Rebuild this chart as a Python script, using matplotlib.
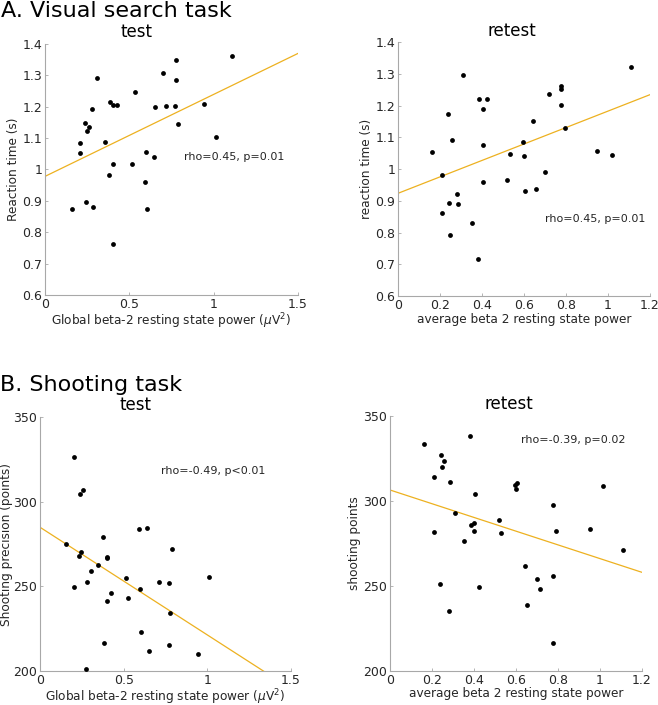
import matplotlib
matplotlib.use('Agg')
import matplotlib.pyplot as plt
import numpy as np

# ---- data ----
# A. visual search, test
vs_test_x = [0.162, 0.208, 0.210, 0.238, 0.242, 0.250, 0.260, 0.279, 0.287, 0.311,
             0.353, 0.382, 0.386, 0.402, 0.404, 0.404, 0.426, 0.531, 0.517, 0.594,
             0.600, 0.604, 0.644, 0.654, 0.699, 0.715, 0.771, 0.775, 0.777, 0.791,
             0.945, 1.014, 1.106]
vs_test_y = [0.875, 1.054, 1.086, 1.147, 0.895, 1.122, 1.134, 1.192, 0.879, 1.293,
             1.087, 0.981, 1.214, 1.205, 1.017, 0.764, 1.205, 1.248, 1.018, 0.961,
             1.057, 0.875, 1.041, 1.199, 1.307, 1.202, 1.202, 1.284, 1.348, 1.146,
             1.210, 1.102, 1.363]
vs_test_fit = [0.978, 1.370]   # y at x=0 and x=1.5

# A. visual search, retest
vs_retest_x = [0.162, 0.209, 0.211, 0.236, 0.241, 0.249, 0.258, 0.279, 0.285, 0.309,
               0.354, 0.382, 0.387, 0.403, 0.403, 0.403, 0.426, 0.518, 0.531, 0.596,
               0.602, 0.606, 0.645, 0.655, 0.699, 0.717, 0.774, 0.778, 0.778, 0.793,
               0.948, 1.018, 1.111]
vs_retest_y = [1.054, 0.983, 0.862, 1.174, 0.895, 0.794, 1.091, 0.922, 0.891, 1.298,
               0.829, 0.716, 1.222, 1.190, 1.076, 0.961, 1.222, 0.967, 1.048, 1.087,
               1.042, 0.932, 1.152, 0.937, 0.991, 1.237, 1.203, 1.263, 1.254, 1.131,
               1.056, 1.044, 1.321]
vs_retest_fit = [0.924, 1.235]  # y at x=0 and x=1.2

# B. shooting, test
sh_test_x = [0.157, 0.203, 0.205, 0.233, 0.237, 0.245, 0.255, 0.277, 0.283, 0.307,
             0.349, 0.378, 0.382, 0.398, 0.400, 0.400, 0.422, 0.512, 0.528, 0.594,
             0.600, 0.602, 0.639, 0.651, 0.713, 0.771, 0.777, 0.773, 0.789, 0.946,
             1.012]
sh_test_y = [274.9, 326.2, 249.4, 268.2, 304.6, 270.2, 306.8, 201.2, 252.3, 258.8,
             262.7, 279.2, 216.5, 267.6, 267.0, 241.3, 246.0, 255.2, 242.9, 283.8,
             248.2, 223.0, 284.7, 211.8, 252.3, 251.9, 234.0, 215.3, 271.8, 209.8,
             255.8]
sh_test_fit = [284.9, 189.5]   # y at x=0 and x=1.5

# B. shooting, retest
sh_retest_x = [0.160, 0.208, 0.208, 0.236, 0.241, 0.247, 0.258, 0.279, 0.285, 0.309,
               0.352, 0.380, 0.385, 0.401, 0.401, 0.404, 0.425, 0.517, 0.529, 0.594,
               0.601, 0.604, 0.645, 0.654, 0.698, 0.715, 0.774, 0.777, 0.778, 0.791,
               0.950, 1.016, 1.110]
sh_retest_y = [333.5, 313.8, 281.6, 251.1, 327.2, 320.1, 323.3, 235.4, 310.9, 293.0,
               276.7, 338.4, 285.7, 287.1, 282.2, 303.8, 249.5, 289.0, 281.0, 309.5,
               306.8, 310.3, 261.7, 238.9, 254.3, 248.4, 255.8, 297.7, 216.5, 282.2,
               283.4, 308.7, 271.2]
sh_retest_fit = [306.4, 258.0]  # y at x=0 and x=1.2

LINE_COL = '#EDB120'
SPINE_COL = '#a8a8a8'
TEXT_COL = '#262626'

plt.rcParams['font.family'] = 'DejaVu Sans'

fig = plt.figure(figsize=(6.58, 7.05), dpi=100)

def setup(ax, xlim, xticks, xticklabels, ylim, yticks, yticklabels):
    ax.set_xlim(xlim)
    ax.set_ylim(ylim)
    ax.set_xticks(xticks)
    ax.set_xticklabels(xticklabels)
    ax.set_yticks(yticks)
    ax.set_yticklabels(yticklabels)
    for s in ['top', 'right']:
        ax.spines[s].set_visible(False)
    for s in ['left', 'bottom']:
        ax.spines[s].set_color(SPINE_COL)
        ax.spines[s].set_linewidth(0.8)
    ax.tick_params(direction='in', length=2.5, width=0.6, color=SPINE_COL,
                   labelsize=9, labelcolor=TEXT_COL, pad=2)

def panel(rect, xs, ys, fit, xmax, xticks, xticklabels, ylim, yticks, yticklabels,
          xlabel, ylabel, title, title_x, note, note_xy, ylab_pad):
    ax = fig.add_axes(rect)
    setup(ax, (0, xmax), xticks, xticklabels, ylim, yticks, yticklabels)
    ax.plot([0, xmax], fit, color=LINE_COL, lw=0.9, zorder=2)
    ax.scatter(xs, ys, s=12, color='black', zorder=3, linewidths=0)
    ax.text(note_xy[0], note_xy[1], note, fontsize=8, color=TEXT_COL, va='center')
    ax.set_xlabel(xlabel, fontsize=8.7, color=TEXT_COL, labelpad=0.5)
    ax.set_ylabel(ylabel, fontsize=8.7, color=TEXT_COL, labelpad=ylab_pad)
    ax.text(title_x, 1.01, title, transform=ax.transAxes, ha='center', va='bottom',
            fontsize=12, color='black')
    return ax

rt_ticks = [0.6, 0.7, 0.8, 0.9, 1.0, 1.1, 1.2, 1.3, 1.4]
rt_labels = ['0.6', '0.7', '0.8', '0.9', '1', '1.1', '1.2', '1.3', '1.4']
sh_ticks = [200, 250, 300, 350]
sh_labels = ['200', '250', '300', '350']
x15_ticks = [0, 0.5, 1, 1.5]
x15_labels = ['0', '0.5', '1', '1.5']
x12_ticks = [0, 0.2, 0.4, 0.6, 0.8, 1.0, 1.2]
x12_labels = ['0', '0.2', '0.4', '0.6', '0.8', '1', '1.2']

panel([0.0684, 0.5816, 0.3845, 0.356], vs_test_x, vs_test_y, vs_test_fit, 1.5,
      x15_ticks, x15_labels, (0.6, 1.4), rt_ticks, rt_labels,
      r'Global beta-2 resting state power ($\mu$V$^2$)', 'Reaction time (s)',
      'test', 0.36, 'rho=0.45, p=0.01', (0.826, 1.041), 1.5)

panel([0.6049, 0.580, 0.383, 0.360], vs_retest_x, vs_retest_y, vs_retest_fit, 1.2,
      x12_ticks, x12_labels, (0.6, 1.4), rt_ticks, rt_labels,
      'average beta 2 resting state power', 'reaction time (s)',
      'retest', 0.45, 'rho=0.45, p=0.01', (0.698, 0.843), 1.5)

panel([0.0608, 0.0482, 0.3815, 0.3603], sh_test_x, sh_test_y, sh_test_fit, 1.5,
      x15_ticks, x15_labels, (200, 350), sh_ticks, sh_labels,
      r'Global beta-2 resting state power ($\mu$V$^2$)', 'Shooting precision (points)',
      'test', 0.38, 'rho=-0.49, p<0.01', (0.721, 318.2), 0.5)

panel([0.5927, 0.0482, 0.383, 0.362], sh_retest_x, sh_retest_y, sh_retest_fit, 1.2,
      x12_ticks, x12_labels, (200, 350), sh_ticks, sh_labels,
      'average beta 2 resting state power', 'shooting points',
      'retest', 0.47, 'rho=-0.39, p=0.02', (0.623, 336.0), 1.5)

fig.text(0.002, 1 - 17 / 705, 'A. Visual search task', fontsize=16, va='baseline', ha='left')
fig.text(0.0, 1 - 391 / 705, 'B. Shooting task', fontsize=16, va='baseline', ha='left')

fig.savefig('out.png', dpi=100)
